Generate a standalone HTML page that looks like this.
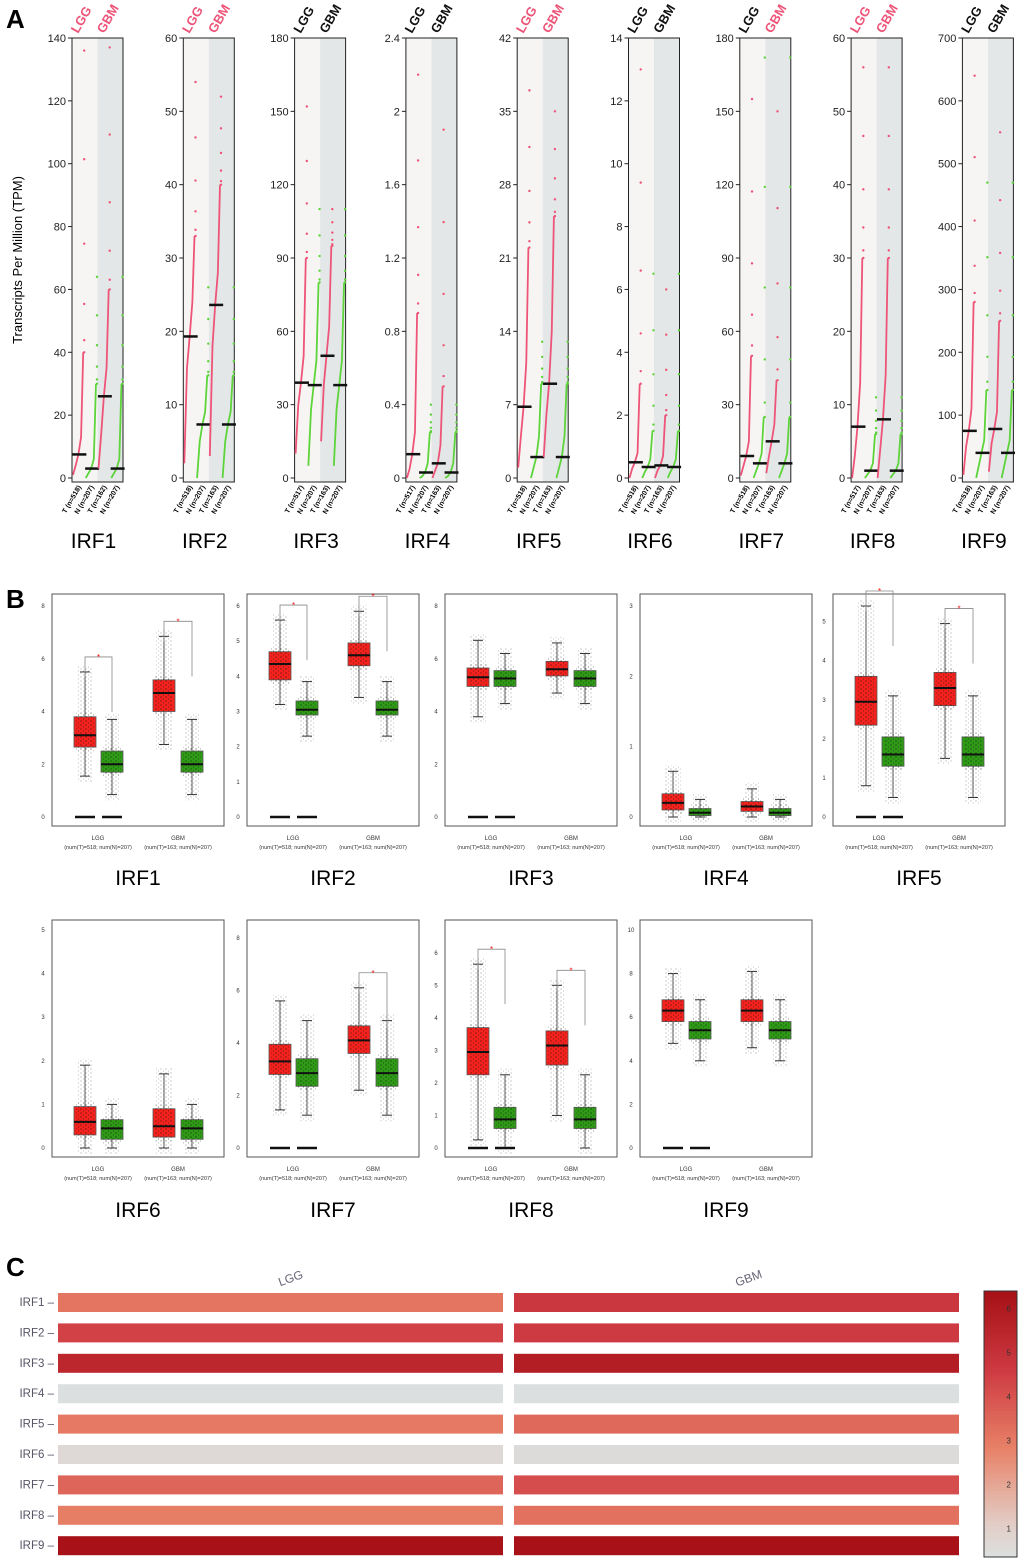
<!DOCTYPE html>
<html><head><meta charset="utf-8">
<style>
body{margin:0;background:#fff;}
svg{display:block;font-family:"Liberation Sans",sans-serif;}
</style></head>
<body>
<svg id="fig" width="1020" height="1568" viewBox="0 0 1020 1568">
<defs>
<pattern id="dots" width="5" height="4" patternUnits="userSpaceOnUse">
<circle cx="1" cy="1" r="0.6" fill="#111"/><circle cx="3.5" cy="3" r="0.55" fill="#222"/>
</pattern>
</defs>
<text x="6" y="28" font-size="26" font-weight="bold">A</text>
<text x="6" y="608" font-size="26" font-weight="bold">B</text>
<text x="6" y="1276" font-size="26" font-weight="bold">C</text>
<text transform="translate(22,260) rotate(-90)" text-anchor="middle" font-size="13">Transcripts Per Million (TPM)</text>
<g id="pa"></g><g id="pb"></g><g id="pc"></g>
</svg>
<script>
const NS="http://www.w3.org/2000/svg";
function mk(tag,attrs,parent,txt){const e=document.createElementNS(NS,tag);for(const k in attrs)e.setAttribute(k,attrs[k]);if(txt!==undefined)e.textContent=txt;parent.appendChild(e);return e;}

// ---------- Panel A data ----------
const genesA=["IRF1","IRF2","IRF3","IRF4","IRF5","IRF6","IRF7","IRF8","IRF9"];
const yMaxA=[140,60,180,2.4,42,14,180,60,700];
const yStepA=[20,10,30,0.4,7,2,30,10,100];
const sigLGG=[1,1,0,0,1,0,0,1,0];
const sigGBM=[1,1,0,0,1,0,1,1,0];
const quantFrac=[0,0.25,0.5,0.75,0.95,1];
const tLGG=[[1,4,7.5,13,40,136],[2,15,19.3,24,33,54],[10,30,39,50,90,152],[0,0.05,0.13,0.25,0.9,2.2],[1,4,6.8,11,22,37],[0,0.3,0.5,0.8,3,13],[1,5,9,15,50,155],[0,3,7,13,30,56],[5,50,75,110,280,640]];
const nNorm=[[0,1.5,3,6,30,64],[0,5,7.3,9,14,26],[5,28,38,48,80,110],[0,0.01,0.03,0.08,0.25,0.4],[0,1,2,4,9,13],[0,0.2,0.35,0.6,1.5,6.5],[0,3,6,10,25,172],[0,0.5,1,2,6,11],[0,20,40,60,140,470]];
const tGBM=[[3,14,26,35,60,137],[3,18,23.6,28,40,52],[15,38,50,62,95,110],[0,0.04,0.08,0.18,0.5,1.9],[2,6,9,14,25,35],[0,0.25,0.4,0.7,2,6],[2,9,15,22,40,150],[0,4,8,14,30,56],[10,55,78,105,250,550]];
const nLabels=[["518","207","162","207"],["518","207","163","207"],["517","207","163","207"],["517","207","163","207"],["518","207","163","207"],["518","207","163","207"],["518","207","163","207"],["517","207","163","207"],["518","207","163","207"]];

const pa=document.getElementById('pa');
const PINK="#ee5478",GREEN="#5cd43a";
genesA.forEach((g,i)=>{
  const L=72+i*111.3,W=51,T=38,B=478;
  const y=v=>B-(v/yMaxA[i])*(B-T);
  const grp=mk('g',{},pa);
  
  
  mk('rect',{x:L,y:T,width:W/2,height:B-T+4,fill:"#f7f5f4"},grp);
  mk('rect',{x:L+W/2,y:T,width:W/2,height:B-T+4,fill:"#e3e7e7"},grp);
  mk('rect',{x:L,y:T,width:W,height:B-T+4,fill:"none",stroke:"#222","stroke-width":1},grp);
  for(let v=0;v<=yMaxA[i]+1e-9;v+=yStepA[i]){
    const yy=y(v);
    mk('line',{x1:L-4,x2:L,y1:yy,y2:yy,stroke:"#222"},grp);
    const lab=Math.abs(v-Math.round(v))<1e-9?String(Math.round(v)):String(+v.toFixed(1));
    const t=mk('text',{x:L-6,y:yy+4,"font-size":11,"text-anchor":"end",fill:"#222"},grp,lab);
    
    
  }
  const groups=[tLGG[i],nNorm[i],tGBM[i],nNorm[i]];
  const cols=[PINK,GREEN,PINK,GREEN];
  groups.forEach((q,j)=>{
    const x0=L+j*W/4+1,x1=x0+W/4-2;
    let pts=q.slice(0,5).map((v,k)=>[x0+quantFrac[k]*(x1-x0),y(v)]);
    const pl=mk('polyline',{points:pts.map(p=>p.join(',')).join(' '),fill:"none",stroke:cols[j],"stroke-width":1.8},grp);
    
    
    // sparse tail dots between q95 and max
    const xt=x0+0.95*(x1-x0)+1;
    for(let f=0;f<=1.0001;f+=0.2){
      const v=q[4]+(q[5]-q[4])*f*f;
      mk('circle',{cx:xt,cy:y(v),r:1.2,fill:cols[j]},grp);
    }
    const m=mk('line',{x1:x0+W/8-7,x2:x0+W/8+7,y1:y(q[2]),y2:y(q[2]),stroke:"#111","stroke-width":2.5},grp);
    
    
    const lbl=["T","N","T","N"][j]+" (n="+nLabels[i][j]+")";
    const xl=L+j*W/4+W/8+3;
    mk('text',{transform:`translate(${xl},${B+9}) rotate(-60)`,"font-size":7,"font-weight":"bold","text-anchor":"end"},grp,lbl);
  });
  const c1=sigLGG[i]?PINK:"#111",c2=sigGBM[i]?PINK:"#111";
  const t1=mk('text',{transform:`translate(${L+6},${T-4}) rotate(-60)`,"font-size":13,"font-weight":"bold",fill:c1},grp,"LGG");
  
  
  const t2=mk('text',{transform:`translate(${L+32},${T-4}) rotate(-60)`,"font-size":13,"font-weight":"bold",fill:c2},grp,"GBM");
  
  
  const tt=mk('text',{x:L+W/2-4,y:548,"font-size":21,"text-anchor":"middle"},grp,g);
  
  
});

// ---------- Panel B data ----------
const genesB=["IRF1","IRF2","IRF3","IRF4","IRF5","IRF6","IRF7","IRF8","IRF9"];
const topValB=[8,6,8,3,5.4,5,8.3,6.7,10];
const tickStepB=[2,1,2,1,1,1,2,1,2];
// [q1, median, q3, whiskerLow, whiskerHigh]
const lggT=[[2.65,3.1,3.8,1.55,5.5],[3.9,4.35,4.7,3.2,5.6],[4.95,5.3,5.65,3.8,6.7],[0.1,0.2,0.33,0,0.65],[2.35,2.95,3.6,0.8,5.4],[0.3,0.6,0.95,0,1.9],[2.8,3.3,3.95,1.45,5.6],[2.25,2.95,3.7,0.25,5.65],[5.8,6.3,6.8,4.8,8]];
const lggN=[[1.7,2.0,2.5,0.85,3.7],[2.9,3.05,3.3,2.3,3.85],[4.95,5.25,5.55,4.3,6.2],[0.02,0.06,0.12,0,0.25],[1.3,1.6,2.05,0.5,3.1],[0.2,0.45,0.65,0,1.0],[2.35,2.85,3.4,1.25,4.85],[0.6,0.88,1.25,0,2.25],[5.0,5.4,5.8,4.0,6.8]];
const gbmT=[[4.0,4.7,5.2,2.75,6.85],[4.3,4.6,4.95,3.4,5.85],[5.35,5.6,5.9,4.7,6.6],[0.08,0.15,0.22,0,0.4],[2.85,3.3,3.7,1.5,4.95],[0.25,0.5,0.9,0,1.7],[3.6,4.1,4.65,2.2,6.1],[2.55,3.15,3.6,1.0,5.0],[5.8,6.3,6.8,4.6,8.1]];
const gbmN=lggN;
const sigBL=[1,1,0,0,1,0,0,1,0];
const sigBG=[1,1,0,0,1,0,1,1,0];
const zeroLine=[1,1,1,0,1,0,1,1,1];
const numT=["518","518","518","518","518","518","518","518","518"];
const numTG=["163","163","163","163","163","163","163","163","163"];

const pb=document.getElementById('pb');
genesB.forEach((g,i)=>{
  const row=i<5?0:1,col=i<5?i:i-5;
  const L=[52,247,445,640,833][col],W=172;
  const T=row?920:594,B=row?1157:826,Z=row?1148:817,TOPY=row?930:606;
  const y=v=>Z-(v/topValB[i])*(Z-TOPY);
  const grp=mk('g',{},pb);
  
  
  mk('rect',{x:L,y:T,width:W,height:B-T,fill:"#fff",stroke:"#555","stroke-width":1},grp);
  for(let v=0;v<=topValB[i]+1e-9;v+=tickStepB[i]){
    mk('text',{x:L-9,y:y(v)+2,"font-size":6,"text-anchor":"middle",fill:"#333"},grp,String(v));
  }
  const boxes=[[lggT[i],33,"#f5211c"],[lggN[i],60,"#2e9a16"],[gbmT[i],112,"#f5211c"],[gbmN[i],140,"#2e9a16"]];
  boxes.forEach(([b,cx,col])=>{
    const X=L+cx,bw=22;
    mk('line',{x1:X,x2:X,y1:y(b[4]),y2:y(b[3]),stroke:"#333","stroke-width":0.8},grp);
    mk('line',{x1:X-5,x2:X+5,y1:y(b[4]),y2:y(b[4]),stroke:"#333"},grp);
    mk('line',{x1:X-5,x2:X+5,y1:y(b[3]),y2:y(b[3]),stroke:"#333"},grp);
    const r=mk('rect',{x:X-bw/2,y:y(b[2]),width:bw,height:y(b[0])-y(b[2]),fill:col,stroke:"#555","stroke-width":0.8},grp);
    
    
    mk('rect',{x:X-9,y:y(b[2])-4,width:18,height:y(b[0])-y(b[2])+8,fill:"url(#dots)",opacity:0.6},grp);
    mk('rect',{x:X-8,y:y(b[4])-6,width:16,height:y(b[3])-y(b[4])+12,fill:"url(#dots)",opacity:0.35},grp);
    mk('line',{x1:X-bw/2,x2:X+bw/2,y1:y(b[1]),y2:y(b[1]),stroke:"#111","stroke-width":2},grp);
  });
  if(zeroLine[i]){
    mk('line',{x1:L+23,x2:L+43,y1:Z,y2:Z,stroke:"#111","stroke-width":2.5},grp);
    mk('line',{x1:L+50,x2:L+70,y1:Z,y2:Z,stroke:"#111","stroke-width":2.5},grp);
  }
  const sig=(x1,x2,yTop)=>{
    mk('polyline',{points:`${x1},${yTop+20} ${x1},${yTop} ${x2},${yTop} ${x2},${yTop+55}`,fill:"none",stroke:"#888","stroke-width":0.8},grp);
    const s=mk('text',{x:(x1+x2)/2,y:yTop+3,"font-size":8,fill:"#e11","text-anchor":"middle"},grp,"*");
    
    
  };
  if(sigBL[i]) sig(L+33,L+60,Math.min(y(lggT[i][4]),y(lggN[i][4]))-15);
  if(sigBG[i]) sig(L+112,L+140,Math.min(y(gbmT[i][4]),y(gbmN[i][4]))-15);
  mk('text',{x:L+46,y:B+14,"font-size":6,"text-anchor":"middle",fill:"#333"},grp,"LGG");
  mk('text',{x:L+46,y:B+23,"font-size":5.5,"text-anchor":"middle",fill:"#333"},grp,"(num(T)="+numT[i]+"; num(N)=207)");
  mk('text',{x:L+126,y:B+14,"font-size":6,"text-anchor":"middle",fill:"#333"},grp,"GBM");
  mk('text',{x:L+126,y:B+23,"font-size":5.5,"text-anchor":"middle",fill:"#333"},grp,"(num(T)="+numTG[i]+"; num(N)=207)");
  const tt=mk('text',{x:L+W/2,y:row?1217:885,"font-size":21,"text-anchor":"middle"},grp,g);
  
  
});

// ---------- Panel C data ----------
const heatGenes=["IRF1","IRF2","IRF3","IRF4","IRF5","IRF6","IRF7","IRF8","IRF9"];
const heatCols=["LGG","GBM"];
const heatLGG=[3.1,4.4,5.4,0.2,3.0,0.6,3.5,2.9,6.3];
const heatGBM=[4.7,4.6,5.8,0.15,3.4,0.5,4.1,3.2,6.3];
const cbTicks=[1,2,3,4,5,6];
const cMin=0.35,cMax=6.4;
const stops=[[0,[220,223,223]],[0.12,[226,205,198]],[0.4,[232,130,104]],[0.7,[206,58,66]],[1,[165,15,21]]];
function color(v){let t=(v-cMin)/(cMax-cMin);t=Math.max(0,Math.min(1,t));
  for(let k=1;k<stops.length;k++){if(t<=stops[k][0]){const a=stops[k-1],b=stops[k];const f=(t-a[0])/(b[0]-a[0]);
    return "rgb("+a[1].map((c,m)=>Math.round(c+(b[1][m]-c)*f)).join(",")+")";}}return "rgb(165,15,21)";}
const pc=document.getElementById('pc');
const rowY=r=>1302+r*30.4;
heatCols.forEach((c,ci)=>{
  const x=ci?514:58;
  const t=mk('text',{transform:`translate(${ci?750:292},${1282}) rotate(-20)`,"font-size":12,fill:"#667","text-anchor":"middle"},pc,c);
  
  
  const vals=ci?heatGBM:heatLGG;
  vals.forEach((v,r)=>{
    const cell=mk('rect',{x:x,y:rowY(r)-9,width:445,height:19,fill:color(v)},pc);
    
    
  });
});
heatGenes.forEach((g,r)=>{
  const t=mk('text',{x:54,y:rowY(r)+4,"font-size":11.5,fill:"#556","text-anchor":"end"},pc,g+" –");
  
  
});
const cbT=1291,cbB=1557,cbX=984,cbW=33;
const cby=v=>cbB-(v-cMin)/(cMax-cMin)*(cbB-cbT);
for(let k=0;k<80;k++){const v0=cMin+(cMax-cMin)*k/80;mk('rect',{x:cbX,y:cby(v0+(cMax-cMin)/80)-0.5,width:cbW,height:(cbB-cbT)/80+1,fill:color(v0)},pc);}
const cbFrame=mk('rect',{x:cbX,y:cbT,width:cbW,height:cbB-cbT,fill:"none",stroke:"#333","stroke-width":1},pc);


cbTicks.forEach(v=>{mk('text',{x:cbX+cbW-6,y:cby(v)+3,"font-size":8,fill:"#333","text-anchor":"end"},pc,String(v));});
</script>
</body></html>
